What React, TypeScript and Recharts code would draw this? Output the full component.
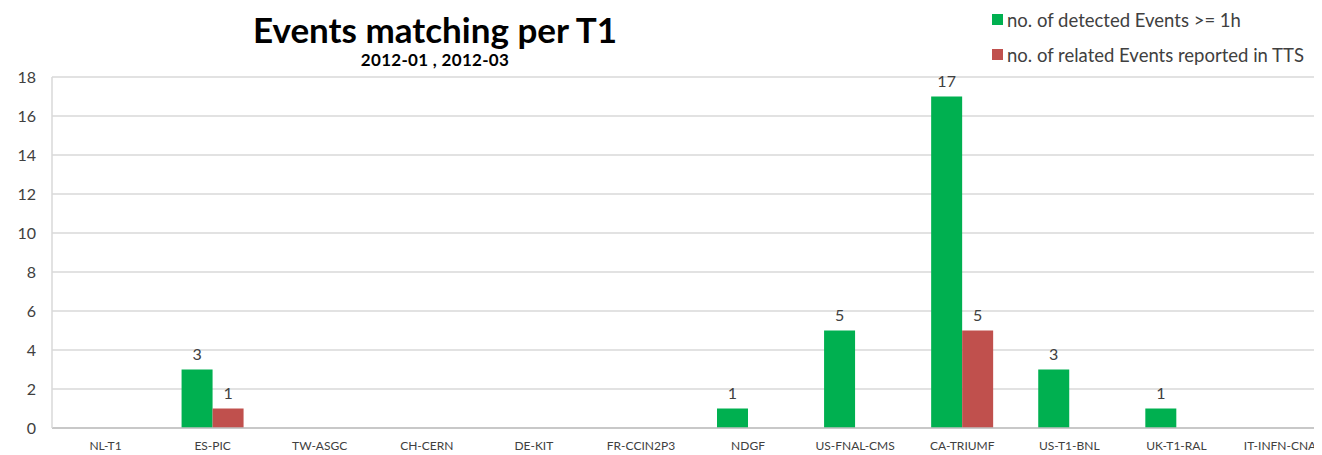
import {
  BarChart,
  Bar,
  XAxis,
  YAxis,
  CartesianGrid,
  Legend,
  LabelList,
} from "recharts";

const sites = [
  "NL-T1",
  "ES-PIC",
  "TW-ASGC",
  "CH-CERN",
  "DE-KIT",
  "FR-CCIN2P3",
  "NDGF",
  "US-FNAL-CMS",
  "CA-TRIUMF",
  "US-T1-BNL",
  "UK-T1-RAL",
  "IT-INFN-CNAF",
];
const detected = [0, 3, 0, 0, 0, 0, 1, 5, 17, 3, 1, 0];
const reported = [0, 1, 0, 0, 0, 0, 0, 0, 5, 0, 0, 0];
const yTicks = [0, 2, 4, 6, 8, 10, 12, 14, 16, 18];

const GREEN = "#00B050";
const RED = "#C0504D";
const FONT = "Lato, 'Open Sans', sans-serif";

const data = sites.map((name, i) => ({
  name,
  detected: detected[i],
  reported: reported[i],
}));

const legendItems = [
  { label: "no. of detected Events >= 1h", color: GREEN },
  { label: "no. of related Events reported in TTS", color: RED },
];

const hideZero = (v: any) => (Number(v) ? v : "");

const renderLegend = () => (
  <div style={{ fontFamily: FONT, fontSize: 18.5, color: "#404040" }}>
    {legendItems.map((it) => (
      <div
        key={it.label}
        style={{ display: "flex", alignItems: "center", height: 35 }}
      >
        <span
          style={{
            width: 11,
            height: 11,
            background: it.color,
            marginRight: 4,
            display: "inline-block",
          }}
        />
        {it.label}
      </div>
    ))}
  </div>
);

const App = () => {
  return (
    <div
      style={{
        position: "relative",
        width: 1314,
        height: 447,
        overflow: "hidden",
        background: "#fff",
        fontFamily: FONT,
      }}
    >
      <div
        style={{
          position: "absolute",
          left: 177,
          width: 500,
          top: 3,
          textAlign: "center",
          fontWeight: 700,
          color: "#000",
        }}
      >
        <div style={{ fontSize: 35, lineHeight: "36px" }}>
          Events matching per T1
        </div>
        <div
          style={{
            fontSize: 17,
            lineHeight: "20px",
            marginTop: 3,
            letterSpacing: 0.3,
          }}
        >
          2012-01 , 2012-03
        </div>
      </div>
      <BarChart
        width={1330}
        height={447}
        data={data}
        margin={{ top: 69, right: 1, left: 0, bottom: 0 }}
        barCategoryGap="21%"
        barGap={0}
      >
        <CartesianGrid
          vertical={false}
          stroke="#D9D9D9"
          strokeWidth={1.5}
        />
        <XAxis
          dataKey="name"
          interval={0}
          height={27}
          tickLine={false}
          axisLine={{ stroke: "#BFBFBF", strokeWidth: 1.5 }}
          tick={{ fill: "#404040", fontSize: 12, fontFamily: FONT }}
          tickMargin={7}
        />
        <YAxis
          width={44}
          domain={[0, 18]}
          ticks={yTicks}
          interval={0}
          tickLine={false}
          axisLine={{ stroke: "#D9D9D9", strokeWidth: 1.5 }}
          tick={{ fill: "#404040", fontSize: 16, fontFamily: FONT }}
          tickMargin={10}
        />
        <Legend
          layout="vertical"
          align="center"
          verticalAlign="middle"
          content={renderLegend}
          wrapperStyle={{ top: -6, left: 984, width: 340 }}
        />
        <Bar dataKey="detected" fill={GREEN} isAnimationActive={false}>
          <LabelList
            dataKey="detected"
            position="top"
            offset={10}
            formatter={hideZero}
            style={{ fill: "#404040", fontSize: 16, fontFamily: FONT }}
          />
        </Bar>
        <Bar dataKey="reported" fill={RED} isAnimationActive={false}>
          <LabelList
            dataKey="reported"
            position="top"
            offset={10}
            formatter={hideZero}
            style={{ fill: "#404040", fontSize: 16, fontFamily: FONT }}
          />
        </Bar>
      </BarChart>
    </div>
  );
};

export default App;
